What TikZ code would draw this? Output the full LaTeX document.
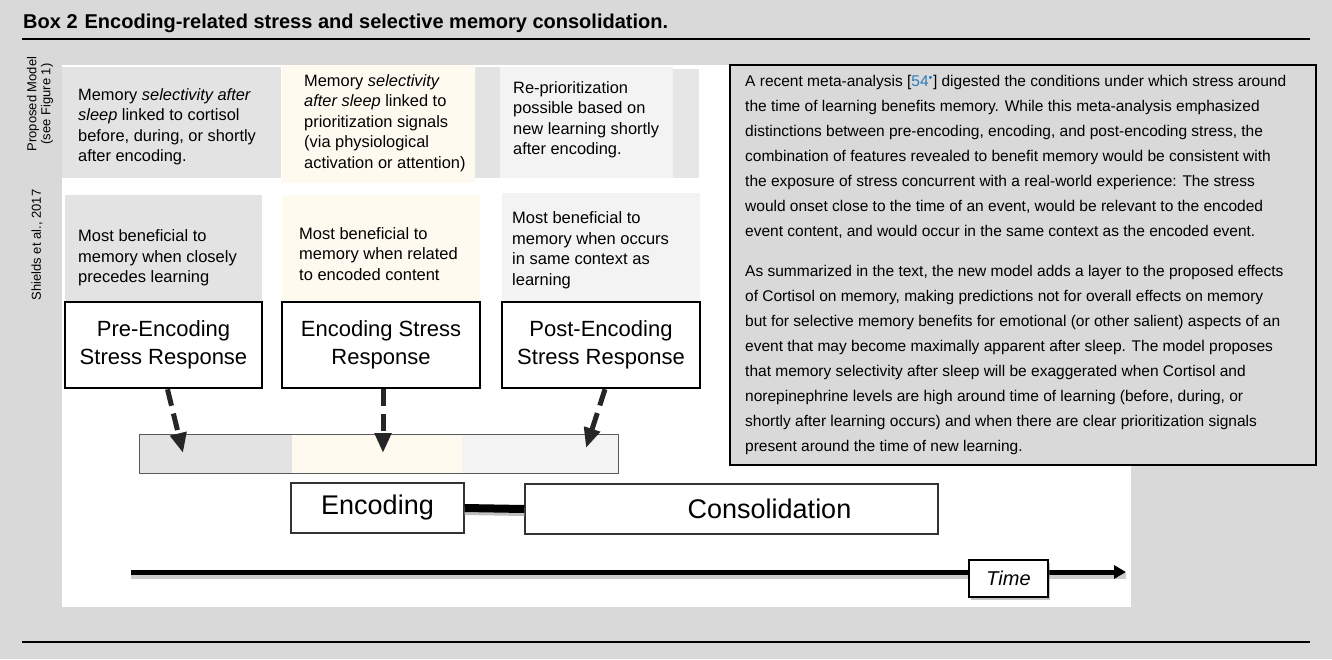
\documentclass[tikz,border=0pt]{standalone}
\usepackage{fontspec}
\setmainfont{Liberation Sans}
\usetikzlibrary{positioning,arrows.meta,shadows}

\definecolor{boxgray}{HTML}{D9D9D9}
\definecolor{cellgray}{HTML}{E3E3E3}
\definecolor{cellcream}{HTML}{FFFAF0}
\definecolor{celllight}{HTML}{F3F3F3}
\definecolor{stripgray}{HTML}{E6E6E6}
\definecolor{citeblue}{HTML}{2B7BB9}

\tikzset{
  toprow/.style={anchor=west, inner sep=0pt, align=left, font=\fontsize{16.4}{20.5}\selectfont},
  lowrow/.style={anchor=west, inner sep=0pt, align=left, font=\fontsize{16.5}{20.5}\selectfont},
  stressbox/.style={draw, line width=2.5pt, fill=white, minimum width=197pt, minimum height=86pt,
    inner sep=0pt, align=center, font=\fontsize{22}{28}\selectfont},
  stressarrow/.style={line width=5pt, black!85, dash pattern=on 17pt off 8pt,
    -{Triangle[length=20pt,width=16pt]}},
  phasebox/.style={draw=black!80, line width=1.2pt, fill=white, minimum height=50pt,
    inner sep=0pt, font=\fontsize{27}{30}\selectfont},
  sidelabel/.style={rotate=90, inner sep=0pt, font=\fontsize{13}{15}\selectfont}
}

\begin{document}
\begin{tikzpicture}[x=1pt,y=-1pt]
    \useasboundingbox (0,0) rectangle (1332,659);
    \fill[boxgray] (0,0) rectangle (1332,659);

    % Heading and rules
    \node[anchor=base west, inner sep=0pt, font=\bfseries\fontsize{20}{22}\selectfont] (title) at (23,28)
        {Box 2\hspace{7pt}Encoding-related stress and selective memory consolidation.};
    \draw[line width=1.5pt] (22,39) -- (1310,39);
    \draw[line width=1.5pt] (22,642) -- (1310,642);

    % White panel
    \fill[white] (62,65) rectangle (1131,607);

    % Side labels
    \node[sidelabel] (propLabel) at (33,104) {Proposed Model};
    \node[sidelabel] (figLabel) at (47,104) {(see Figure 1)};
    \node[sidelabel] (shieldsLabel) at (37,245) {Shields et al., 2017};

    % Cells of the model row
    \fill[cellgray] (62,67) rectangle (281,178);
    \fill[cellcream] (282,65) rectangle (475,183);
    \fill[cellgray] (475,67) rectangle (500,178);
    \fill[celllight] (500,67) rectangle (673,178);
    \fill[stripgray] (673,69) rectangle (699,178);

    \node[toprow] (modelA) at (78,127) {Memory \textit{selectivity after}\\\textit{sleep} linked to cortisol\\before, during, or shortly\\after encoding.};
    \node[toprow] (modelB) at (304,123) {Memory \textit{selectivity}\\\textit{after sleep} linked to\\prioritization signals\\(via physiological\\activation or attention)};
    \node[toprow] (modelC) at (513,120) {Re-prioritization\\possible based on\\new learning shortly\\after encoding.};

    % Cells of the meta-analysis row
    \fill[cellgray] (65,195) rectangle (262,302);
    \fill[cellcream] (282,195) rectangle (480,302);
    \fill[celllight] (502,193) rectangle (700,302);

    \node[lowrow] (metaA) at (78,258) {Most beneficial to\\memory when closely\\precedes learning};
    \node[lowrow] (metaB) at (299,254) {Most beneficial to\\memory when related\\to encoded content};
    \node[lowrow] (metaC) at (512,250) {Most beneficial to\\memory when occurs\\in same context as\\learning};

    % Stress response boxes
    \node[stressbox] (pre) at (163.5,345) {Pre-Encoding\\Stress Response};
    \node[stressbox, minimum width=198pt] (during) at (381,345) {Encoding Stress\\Response};
    \node[stressbox, minimum width=198pt] (post) at (601,345) {Post-Encoding\\Stress Response};

    % Timing bar
    \fill[cellgray] (139,434) rectangle (292,473);
    \fill[cellcream] (292,434) rectangle (462,473);
    \fill[celllight] (462,434) rectangle (618,473);
    \draw[black!65, line width=1pt] (139,434) rectangle (618,473);

    \coordinate (preTip) at (183,453);
    \coordinate (duringTip) at (383,453);
    \coordinate (postTip) at (586,448);
    \draw[stressarrow] ([xshift=4pt]pre.south) -- (preTip);
    \draw[stressarrow] ([xshift=2pt]during.south) -- (duringTip);
    \draw[stressarrow] ([xshift=4pt]post.south) -- (postTip);

    % Encoding and consolidation
    \node[phasebox, minimum width=173pt] (encode) at (377.5,508) {Encoding};
    \node[phasebox, minimum width=413pt] (consol) at (731.5,509) {};
    \node[inner sep=0pt, font=\fontsize{27}{30}\selectfont] (consolText) at ([xshift=38pt]consol.center) {Consolidation};
    \draw[black!25, line width=8pt] ([yshift=-3pt]encode.east) -- ([yshift=-3pt]consol.west);
    \draw[line width=8pt] (encode.east) -- (consol.west);

    % Time axis
    \coordinate (tstart) at (131,572);
    \coordinate (tend) at (1126,572);
    \draw[black!20, line width=6pt] ([yshift=-4pt]tstart) -- ([yshift=-4pt]tend);
    \draw[line width=5pt, -{Triangle[length=12pt,width=13pt]}] (tstart) -- (tend);
    \node[draw, line width=1.2pt, fill=white, minimum width=79pt, minimum height=37pt, inner sep=0pt,
        font=\itshape\fontsize{20}{22}\selectfont,
        drop shadow={shadow xshift=2pt, shadow yshift=-3pt, opacity=0.45}] (time) at (1008.5,578.5) {Time};

    % Text box
    \node[draw, line width=2pt, fill=boxgray, minimum width=586pt, minimum height=400pt, anchor=north west] (infobox) at (729,64) {};
    \node[anchor=north west, inner sep=0pt, align=left, font=\fontsize{15.5}{25}\selectfont] (infotext) at (745,75)
        {A recent meta-analysis [{\color{citeblue}54\textsuperscript{\textbullet}}] digested the conditions under which stress around\\
         the time of learning benefits memory. While this meta-analysis emphasized\\
         distinctions between pre-encoding, encoding, and post-encoding stress, the\\
         combination of features revealed to benefit memory would be consistent with\\
         the exposure of stress concurrent with a real-world experience: The stress\\
         would onset close to the time of an event, would be relevant to the encoded\\
         event content, and would occur in the same context as the encoded event.\\[15pt]
         As summarized in the text, the new model adds a layer to the proposed effects\\
         of Cortisol on memory, making predictions not for overall effects on memory\\
         but for selective memory benefits for emotional (or other salient) aspects of an\\
         event that may become maximally apparent after sleep. The model proposes\\
         that memory selectivity after sleep will be exaggerated when Cortisol and\\
         norepinephrine levels are high around time of learning (before, during, or\\
         shortly after learning occurs) and when there are clear prioritization signals\\
         present around the time of new learning.};
\end{tikzpicture}
\end{document}
